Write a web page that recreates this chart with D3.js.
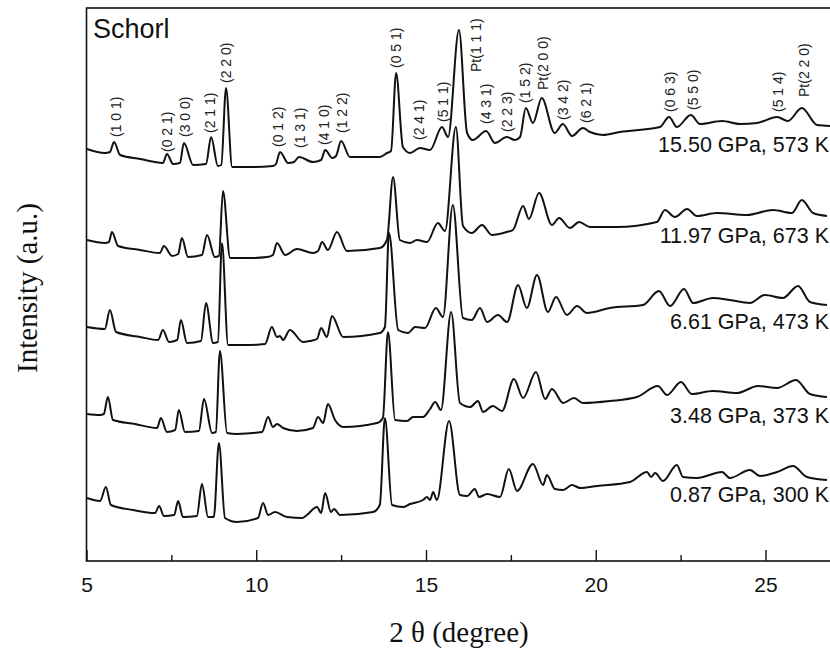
<!DOCTYPE html>
<html>
<head>
<meta charset="utf-8">
<script src="https://cdn.jsdelivr.net/npm/d3@7"></script>
<style>
  body { margin: 0; background: #fff; }
</style>
</head>
<body>
<script>
// XRD patterns of schorl: [2theta (deg), intensity (a.u., stacked)]
const p1550 = [[5.01,412],[5.54,408],[5.69,409],[5.81,419],[5.99,406],[6.58,402],[7.25,398],[7.37,407],[7.55,397],
  [7.75,398],[7.87,418],[8.14,396],[8.52,397],[8.67,424],[8.87,395],[8.97,396],[9.11,473],[9.29,394],[9.82,394],
  [10.49,395],[10.58,397],[10.70,409],[10.94,398],[11.11,399],[11.26,404],[11.67,399],[11.91,401],[12.03,411],
  [12.24,403],[12.35,405],[12.50,420],[12.76,404],[13.64,404],[13.85,408],[13.97,410],[14.12,488],[14.32,414],
  [14.53,408],[14.82,413],[15.12,411],[15.47,434],[15.65,424],[15.97,531],[16.21,428],[16.38,421],[16.77,430],
  [17.03,418],[17.38,424],[17.62,421],[17.77,424],[17.94,453],[18.15,438],[18.41,463],[18.79,428],[19.03,437],
  [19.30,425],[19.62,433],[19.83,429],[20.21,426],[20.71,429],[21.89,434],[22.16,444],[22.39,434],[22.80,446],
  [23.07,437],[23.72,440],[24.25,437],[24.75,438],[25.34,444],[25.66,440],[26.07,453],[26.52,436],[26.90,435]];
const p1197 = [[5.01,321],[5.54,318],[5.66,319],[5.75,329],[5.93,315],[6.58,311],[7.16,308],[7.28,315],[7.52,305],
  [7.70,307],[7.81,323],[7.99,304],[8.40,306],[8.55,326],[8.78,304],[8.90,305],[9.02,370],[9.23,303],[9.82,303],
  [10.32,304],[10.49,306],[10.61,318],[10.85,306],[11.20,312],[11.67,308],[11.82,310],[11.94,319],[12.11,311],
  [12.38,329],[12.67,310],[13.64,313],[13.85,321],[14.03,384],[14.23,321],[14.53,318],[14.73,321],[15.03,319],
  [15.35,338],[15.56,330],[15.88,434],[16.09,335],[16.35,328],[16.65,336],[16.94,326],[17.38,329],[17.56,331],
  [17.86,355],[18.03,342],[18.33,368],[18.71,336],[18.92,343],[19.24,333],[19.51,339],[19.83,334],[20.62,334],
  [21.80,339],[22.04,351],[22.33,344],[22.69,352],[22.98,345],[23.57,348],[24.45,346],[25.22,351],
  [25.78,348],[26.07,361],[26.40,348],[26.81,345]];
const p661 = [[5.01,234],[5.54,232],[5.69,251],[5.87,229],[6.58,224],[7.11,221],[7.25,231],[7.43,219],
  [7.67,221],[7.78,241],[7.96,218],[8.37,220],[8.52,258],[8.73,218],[8.87,219],[8.99,318],[9.17,216],[9.82,216],
  [10.26,217],[10.46,234],[10.61,224],[10.70,225],[10.79,221],[10.99,231],[11.38,219],[11.58,220],[11.79,222],
  [11.91,233],[12.08,224],[12.23,245],[12.56,224],[13.64,228],[13.79,234],[13.91,328],[14.18,231],[14.47,228],
  [14.68,234],[14.97,233],[15.29,253],[15.50,244],[15.79,356],[16.09,243],[16.35,241],[16.59,253],[16.80,239],
  [17.12,246],[17.39,239],[17.71,276],[17.97,253],[18.27,286],[18.59,249],[18.83,264],[19.15,246],
  [19.45,255],[19.74,248],[20.42,253],[21.39,256],[21.86,270],[22.19,255],[22.60,272],[22.87,258],
  [23.45,263],[23.95,261],[24.54,258],[24.98,266],[25.51,263],[25.96,275],[26.31,259],[26.81,256]];
const p348 = [[5.01,147],[5.40,146],[5.51,147],[5.63,164],[5.78,141],[6.43,137],[7.08,133],[7.19,143],[7.37,129],
  [7.61,131],[7.72,151],[7.90,129],[8.31,130],[8.46,162],[8.70,128],[8.81,129],[8.93,210],[9.14,128],[9.43,127],
  [10.17,129],[10.35,144],[10.49,134],[10.61,137],[10.79,133],[11.20,130],[11.67,133],[11.82,144],[11.97,138],
  [12.11,157],[12.32,141],[12.56,134],[13.56,138],[13.73,143],[13.88,229],[14.09,141],[14.44,140],[14.62,144],
  [14.91,144],[15.12,152],[15.27,159],[15.44,151],[15.74,249],[16.00,158],[16.30,154],[16.53,160],
  [16.68,149],[16.97,155],[17.24,150],[17.59,182],[17.86,163],[18.24,189],[18.51,162],[18.71,172],
  [19.04,158],[19.36,163],[19.62,158],[20.42,160],[21.21,164],[21.83,175],[22.10,166],[22.51,179],
  [22.83,167],[23.45,170],[24.16,168],[24.78,175],[25.34,173],[25.90,181],[26.31,167],[26.81,164]];
const p087 = [[5.01,63],[5.40,60],[5.57,74],[5.72,56],[6.37,51],[7.02,48],[7.14,55],[7.28,45],
  [7.58,46],[7.70,60],[7.84,44],[8.25,45],[8.40,77],[8.58,44],[8.75,44],[8.90,118],[9.08,43],[9.43,39],
  [10.05,43],[10.20,58],[10.35,46],[10.55,49],[10.91,44],[11.35,43],[11.49,46],[11.79,54],[11.91,48],
  [12.03,68],[12.20,49],[12.29,52],[12.47,46],[13.44,49],[13.64,56],[13.79,143],[14.00,56],[14.32,54],
  [14.53,57],[14.91,61],[15.03,64],[15.12,61],[15.21,69],[15.32,61],[15.68,140],[16.00,66],[16.21,65],
  [16.44,72],[16.56,64],[16.80,67],[17.18,64],[17.44,92],[17.68,70],[18.15,97],[18.45,76],[18.56,86],
  [18.80,72],[19.04,71],[19.30,76],[19.54,73],[20.04,75],[21.01,79],[21.51,89],[21.63,84],[21.75,88],
  [21.98,80],[22.39,96],[22.57,84],[22.98,83],[23.72,89],[23.95,83],[24.54,91],[24.84,85],[25.34,89],
  [25.81,95],[26.22,84],[26.81,81]];

const patterns = [p1550, p1197, p661, p348, p087];
const conditions = ["15.50 GPa, 573 K", "11.97 GPa, 673 K", "6.61 GPa, 473 K", "3.48 GPa, 373 K", "0.87 GPa, 300 K"];
const conditionLevel = [409, 318, 232, 138, 59];

// Miller indices on the top pattern
const hkl = ["(1 0 1)","(0 2 1)","(3 0 0)","(2 1 1)","(2 2 0)","(0 1 2)","(1 3 1)","(4 1 0)","(1 2 2)",
  "(0 5 1)","(2 4 1)","(5 1 1)","Pt(1 1 1)","(4 3 1)","(2 2 3)","(1 5 2)","Pt(2 0 0)","(3 4 2)","(6 2 1)",
  "(0 6 3)","(5 5 0)","(5 1 4)","Pt(2 2 0)"];
const hklTheta = [5.87,7.37,7.90,8.64,9.11,10.64,11.29,12.00,12.53,14.12,14.79,15.50,16.47,16.77,17.39,
  17.91,18.44,19.03,19.71,22.19,22.87,25.37,26.13];
const hklLevel = [424,409,424,428,478,414,413,416,428,493,421,439,489,437,429,458,471,441,438,449,451,449,464];

const majorTicks = [5, 10, 15, 20, 25];
const minorTicks = [7.5, 12.5, 17.5, 22.5];

const width = 830, height = 652;
const plotLeft = 86.5, plotTop = 8, plotBottom = 561;

const svg = d3.select("body").append("svg")
    .attr("width", width)
    .attr("height", height)
    .style("font-family", "Arial, 'Liberation Sans', sans-serif");

const x = d3.scaleLinear().domain([5, 27]).range([plotLeft, plotLeft + 33.95 * 22]);
const y = d3.scaleLinear().domain([0, 553]).range([plotBottom, plotTop]);

// frame (right side runs off the picture)
svg.append("rect")
    .attr("x", plotLeft).attr("y", plotTop)
    .attr("width", x(27) - plotLeft + 10).attr("height", plotBottom - plotTop)
    .attr("fill", "none").attr("stroke", "#111").attr("stroke-width", 1.6);

// axis with inward ticks
const axisMajor = d3.axisBottom(x).tickValues(majorTicks).tickSize(-11).tickPadding(16)
    .tickFormat(d3.format("d"));
const gx = svg.append("g").attr("transform", `translate(0,${plotBottom})`).call(axisMajor);
gx.select(".domain").remove();
gx.selectAll(".tick line").attr("stroke", "#111").attr("stroke-width", 1.4);
gx.selectAll(".tick text").attr("font-size", 21).attr("fill", "#111")
    .attr("font-family", "Arial, 'Liberation Sans', sans-serif");

const gm = svg.append("g").attr("transform", `translate(0,${plotBottom})`)
    .call(d3.axisBottom(x).tickValues(minorTicks).tickSize(-6).tickFormat(""));
gm.select(".domain").remove();
gm.selectAll(".tick line").attr("stroke", "#111").attr("stroke-width", 1.4);

// patterns
const line = d3.line()
    .x(d => x(d[0]))
    .y(d => y(d[1]))
    .curve(d3.curveMonotoneX);

svg.append("g")
    .selectAll("path")
    .data(patterns)
    .join("path")
    .attr("d", line)
    .attr("fill", "none")
    .attr("stroke", "#111")
    .attr("stroke-width", 2)
    .attr("stroke-linejoin", "round");

// pressure / temperature labels
svg.append("g")
    .selectAll("text")
    .data(conditions)
    .join("text")
    .attr("x", 829)
    .attr("y", (d, i) => y(conditionLevel[i]))
    .attr("text-anchor", "end")
    .attr("font-size", 21.5)
    .attr("fill", "#111")
    .text(d => d);

// hkl labels
svg.append("g")
    .selectAll("text")
    .data(hkl)
    .join("text")
    .attr("transform", (d, i) => `translate(${x(hklTheta[i])},${y(hklLevel[i])}) rotate(-90)`)
    .attr("dy", "0.35em")
    .attr("font-size", 14)
    .attr("fill", "#222")
    .text(d => d);

svg.append("text")
    .attr("x", 93).attr("y", 38)
    .attr("font-size", 27)
    .attr("fill", "#111")
    .text("Schorl");

// axis titles
svg.append("text")
    .attr("x", 459).attr("y", 642)
    .attr("text-anchor", "middle")
    .attr("font-family", "'Liberation Serif', 'Times New Roman', serif")
    .attr("font-size", 29)
    .attr("fill", "#111")
    .text("2 θ (degree)");

svg.append("text")
    .attr("transform", "translate(37,288) rotate(-90)")
    .attr("text-anchor", "middle")
    .attr("font-family", "'Liberation Serif', 'Times New Roman', serif")
    .attr("font-size", 29)
    .attr("fill", "#111")
    .text("Intensity (a.u.)");
</script>
</body>
</html>
